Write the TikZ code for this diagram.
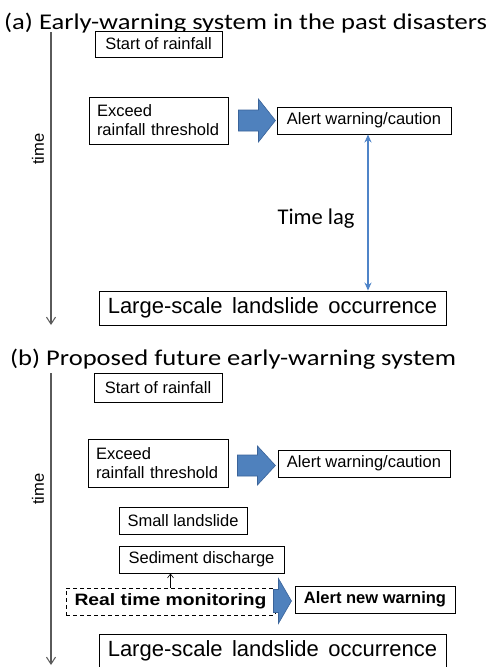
\documentclass[tikz,border=0pt]{standalone}
\usepackage{fontspec}
\usepackage{graphicx}
\setmainfont{Liberation Sans}
\newfontfamily\calibri{Carlito}
\newfontfamily\calibriwide[FakeStretch=1.18]{Carlito}
\usetikzlibrary{arrows.meta,calc}

\definecolor{arrowblue}{HTML}{4F81BD}
\definecolor{arrowedge}{HTML}{3A6399}
\definecolor{lagblue}{HTML}{4F84C8}
\definecolor{axisgray}{HTML}{5A5A5A}

\tikzset{
  box/.style={draw=black, line width=0.9pt, inner sep=0pt, fill=white,
    font=\fontsize{16.5}{19}\selectfont},
  bigbox/.style={box, font=\fontsize{22}{24}\selectfont},
  dashbox/.style={box, dash pattern=on 4pt off 3pt},
  heading/.style={anchor=base west, inner sep=0pt,
    font=\calibriwide\fontsize{22.5}{26}\selectfont},
  lagtext/.style={inner sep=0pt, font=\calibri\fontsize{22.5}{24}\selectfont},
  axis/.style={draw=axisgray, line width=1.3pt,
    -{Straight Barb[length=7pt,width=9pt,line width=1pt]}},
  axislabel/.style={rotate=90, inner sep=0pt, font=\fontsize{16.5}{19}\selectfont},
  lag/.style={draw=lagblue, line width=1.4pt,
    {Stealth[length=8pt,width=7pt]}-{Stealth[length=8pt,width=7pt]}},
  thin/.style={draw=black, line width=0.6pt,
    -{Straight Barb[length=4pt,width=6pt,line width=0.6pt]}},
  fatarrow/.style={fill=arrowblue, draw=arrowedge, line width=0.6pt},
}

\begin{document}
\begin{tikzpicture}[x=1pt, y=-1pt]
  \path[use as bounding box, clip] (0,0) rectangle (493,667);
  \fill[white] (0,0) rectangle (493,667);

  % ---------- (a) past early-warning system ----------
  \node[heading] (titleA) at (4,29) {(a) Early-warning system in the past disasters};
  \coordinate (axAtop) at (51,32);
  \coordinate (axAbot) at (51,325);
  \draw[axis] (axAtop) -- (axAbot);
  \node[axislabel] (timeA) at (38,149) {time};

  \node[box, minimum width=127pt, minimum height=26pt] (startA) at (158.5,44) {Start of rainfall};
  \node[box, minimum width=139pt, minimum height=47pt, text width=123pt, align=left]
    (exceedA) at (158.5,120.5) {Exceed\\rainfall threshold};
  \node[box, minimum width=174pt, minimum height=27pt] (alertA) at (364,120.5) {Alert warning/caution};
  \node[bigbox, minimum width=347pt, minimum height=34pt] (largeA) at (272.5,308)
    {Large-scale\hspace{0.15em} landslide\hspace{0.15em} occurrence};

  % block arrow between threshold and alert
  \coordinate (fa1) at ($(exceedA.east)+(10,0)$);
  \draw[fatarrow] ($(fa1)+(0,-10.5)$) -- ++(20,0) -- ++(0,-11) -- ++(17,21.5)
    -- ++(-17,21.5) -- ++(0,-11) -- ++(-20,0) -- cycle;

  % time lag between alert and landslide
  \coordinate (lagtop) at ($(alertA.south)+(4,0)$);
  \coordinate (lagbot) at (lagtop |- largeA.north);
  \draw[lag] (lagtop) -- (lagbot);
  \node[lagtext] (lagA) at (316,219) {Time lag};

  % ---------- (b) proposed early-warning system ----------
  \node[heading] (titleB) at (10,365) {(b) Proposed future early-warning system};
  \coordinate (axBtop) at (51,373);
  \coordinate (axBbot) at (51,665);
  \draw[axis] (axBtop) -- (axBbot);
  \node[axislabel] (timeB) at (38,489) {time};

  \node[box, minimum width=128pt, minimum height=29pt] (startB) at (158,387.5) {Start of rainfall};
  \node[box, minimum width=140pt, minimum height=48pt, text width=124pt, align=left]
    (exceedB) at (158,463) {Exceed\\rainfall threshold};
  \node[box, minimum width=172pt, minimum height=27pt] (alertB) at (364,463.5) {Alert warning/caution};
  \node[box, minimum width=128pt, minimum height=27pt] (smallB) at (183,520.5) {Small landslide};
  \node[box, minimum width=165pt, minimum height=27pt] (sedB) at (201.5,559.5) {Sediment discharge};
  \node[dashbox, minimum width=209pt, minimum height=27pt] (rtmB) at (170.5,601.5)
    {\scalebox{1.17}[1]{\bfseries Real time monitoring}};
  \node[box, minimum width=160pt, minimum height=27pt] (newB) at (375,599.5)
    {\bfseries Alert new warning};
  \node[bigbox, minimum width=347pt, minimum height=34pt] (largeB) at (272.5,651)
    {Large-scale\hspace{0.15em} landslide\hspace{0.15em} occurrence};

  % block arrow between threshold and alert
  \coordinate (fb1) at ($(exceedB.east)+(9,2.5)$);
  \draw[fatarrow] ($(fb1)+(0,-10.5)$) -- ++(20,0) -- ++(0,-9) -- ++(18,19.5)
    -- ++(-18,19.5) -- ++(0,-9) -- ++(-20,0) -- cycle;

  % monitoring picks up the sediment discharge
  \draw[thin] (rtmB.north) -- (rtmB.north |- sedB.south);

  % block arrow from monitoring to new warning
  \coordinate (fb2) at ($(rtmB.east)+(-2,-0.5)$);
  \draw[fatarrow] ($(fb2)+(0,-11.5)$) -- ++(5,0) -- ++(0,-11) -- ++(13,22.5)
    -- ++(-13,22.5) -- ++(0,-11) -- ++(-5,0) -- cycle;
\end{tikzpicture}
\end{document}
